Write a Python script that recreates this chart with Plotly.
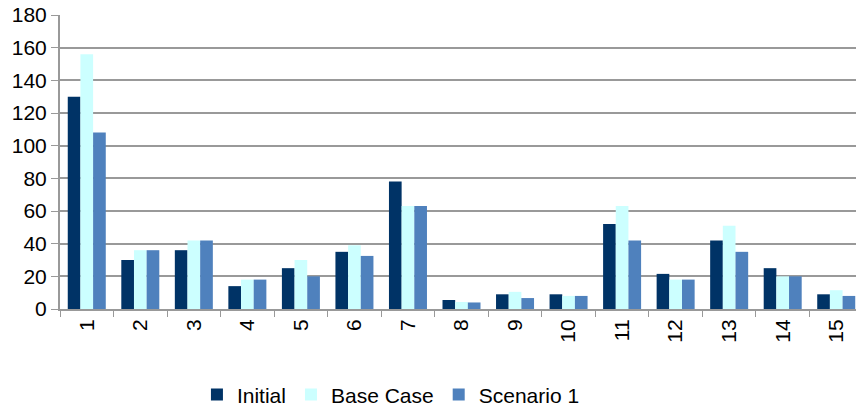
import plotly.graph_objects as go

categories = [str(i) for i in range(1, 16)]
initial = [130, 30, 36, 14, 25, 35, 78, 5.5, 9, 9, 52, 21.5, 42, 25, 9]
base_case = [156, 36, 42, 18, 30, 39, 63, 4.3, 10.5, 8, 63, 18, 51, 20, 11.5]
scenario1 = [108, 36, 42, 18, 20, 32.5, 63, 4, 6.7, 8, 42, 18, 35, 20, 8]

names = ["Initial", "Base Case", "Scenario 1"]
colors = ["#003366", "#CCFFFF", "#4F81BD"]

fig = go.Figure()
for name, vals, col in zip(names, [initial, base_case, scenario1], colors):
    fig.add_trace(go.Bar(x=categories, y=vals, name=name, marker=dict(color=col, line=dict(width=0))))

fig.update_layout(
    width=863, height=407,
    margin=dict(l=60, r=0, t=15, b=98),
    paper_bgcolor="white", plot_bgcolor="white",
    barmode="group", bargap=0.29, bargroupgap=0,
    font=dict(family="Liberation Sans, Arial, sans-serif", color="black"),
    showlegend=True,
    legend=dict(orientation="h", xref="container", yref="container",
                x=0.453, xanchor="center", y=0.03, yanchor="middle",
                font=dict(size=21), itemwidth=30, traceorder="normal"),
    xaxis=dict(type="category", tickangle=-90, tickson="boundaries", ticks="outside",
               ticklen=6, tickcolor="#999999", showline=True, linecolor="#999999", linewidth=2,
               tickfont=dict(size=21), showgrid=False, automargin=False),
    yaxis=dict(range=[0, 180], dtick=20, ticks="outside", ticklen=7, tickcolor="#999999",
               showline=True, linecolor="#999999", linewidth=2, gridcolor="#999999", gridwidth=2,
               tickfont=dict(size=21), zeroline=False, automargin=False),
)
fig.write_html("out.html", config={"displayModeBar": False},
               post_script="document.body.style.margin='0';document.body.style.overflow='hidden';")
